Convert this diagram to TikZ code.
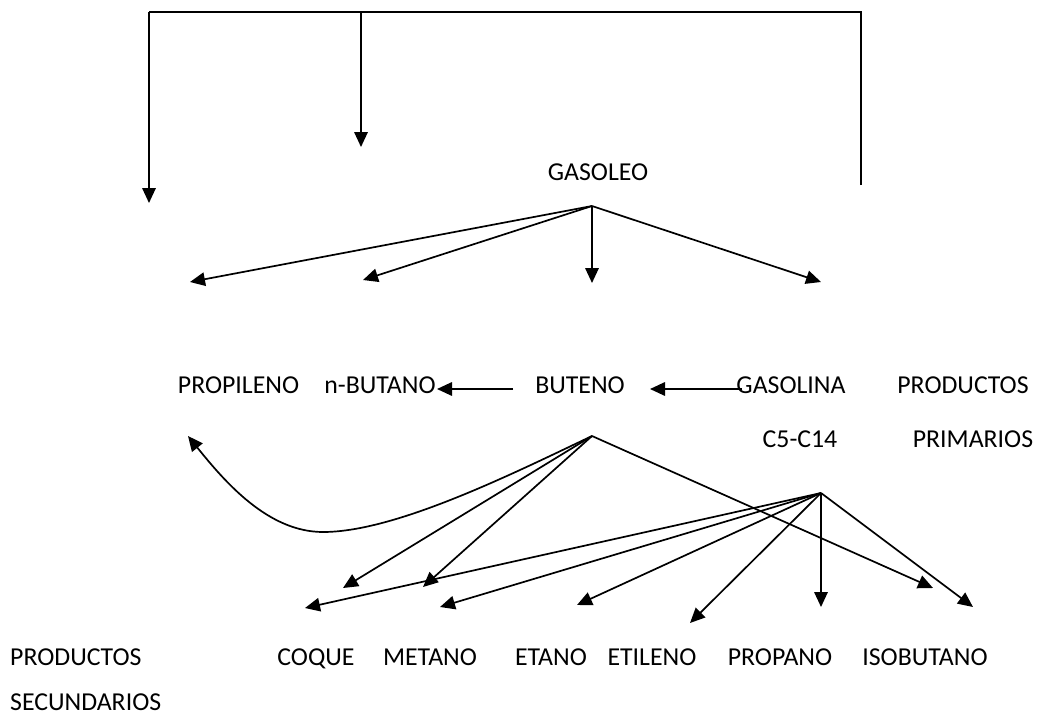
\documentclass[tikz,border=0pt]{standalone}
\usepackage{fontspec}
\setmainfont{Carlito}
\usetikzlibrary{arrows.meta}
\begin{document}
\begin{tikzpicture}[x=1pt,y=-1pt,
  lbl/.style={inner sep=0pt, anchor=base, font=\fontsize{25.8}{30}\selectfont},
  lblw/.style={lbl, anchor=base west},
  plain/.style={line width=1.7pt},
  link/.style={plain, -{Triangle[length=15pt,width=13.5pt]}}]
\fill[white] (0,0) rectangle (1038,717);
\useasboundingbox (0,0) rectangle (1038,717);

% top feedback bracket
\coordinate (tl) at (149,12);
\coordinate (tm) at (361,12);
\coordinate (tr) at (861,12);
\coordinate (tlEnd) at (149,203);
\coordinate (tmEnd) at (361,147);
\coordinate (trEnd) at (861,185);
\draw[plain] (trEnd) -- (tr) -- (tl);
\draw[link] (tl) -- (tlEnd);
\draw[link] (tm) -- (tmEnd);

% feed
\node[lbl] (gasoleo) at (598,180) {GASOLEO};
\coordinate (gSrc) at (592,206);
\coordinate (g1) at (190,282);
\coordinate (g2) at (363,280);
\coordinate (g3) at (592,283);
\coordinate (g4) at (821,282);
\foreach \t in {g1,g2,g3,g4} \draw[link] (gSrc) -- (\t);

% primary products
\node[lbl] (propileno) at (238.5,393) {PROPILENO};
\node[lbl] (nbutano) at (380,393) {n-BUTANO};
\node[lbl] (buteno) at (580,393) {BUTENO};
\node[lbl] (gasolina) at (791,393) {GASOLINA};
\node[lbl] (prodP) at (963,393) {PRODUCTOS};
\node[lbl] (c5c14) at (800,447) {C5-C14};
\node[lbl] (primarios) at (973,447) {PRIMARIOS};

\coordinate (aFrom) at (513,389);
\coordinate (aTo) at (437,389);
\coordinate (bFrom) at (742,389);
\coordinate (bTo) at (650,389);
\draw[link] (aFrom) -- (aTo);
\draw[link] (bFrom) -- (bTo);

% cracking of buteno
\coordinate (bSrc) at (592,436);
\coordinate (bLow) at (323,532);
\coordinate (bProp) at (188,436);
\coordinate (b1) at (343,588);
\coordinate (b2) at (423,587);
\coordinate (b3) at (933,588);
\draw[link] (bSrc) .. controls (510,475) and (395,532) .. (bLow)
  .. controls (268,532) and (225,482) .. (bProp);
\foreach \t in {b1,b2,b3} \draw[link] (bSrc) -- (\t);

% cracking of gasolina
\coordinate (cSrc) at (821,493);
\coordinate (c1) at (305,608);
\coordinate (c2) at (440,607);
\coordinate (c3) at (577,605);
\coordinate (c4) at (690,623);
\coordinate (c5) at (821,607);
\coordinate (c6) at (973,607);
\foreach \t in {c1,c2,c3,c4,c5,c6} \draw[link] (cSrc) -- (\t);

% secondary products
\node[lblw] (prodS) at (10,665) {PRODUCTOS};
\node[lblw] (secund) at (10,710) {SECUNDARIOS};
\node[lbl] (coque) at (316,665) {COQUE};
\node[lbl] (metano) at (430,665) {METANO};
\node[lbl] (etano) at (551,665) {ETANO};
\node[lbl] (etileno) at (652,665) {ETILENO};
\node[lbl] (propano) at (780,665) {PROPANO};
\node[lbl] (isobutano) at (925,665) {ISOBUTANO};
\end{tikzpicture}
\end{document}
